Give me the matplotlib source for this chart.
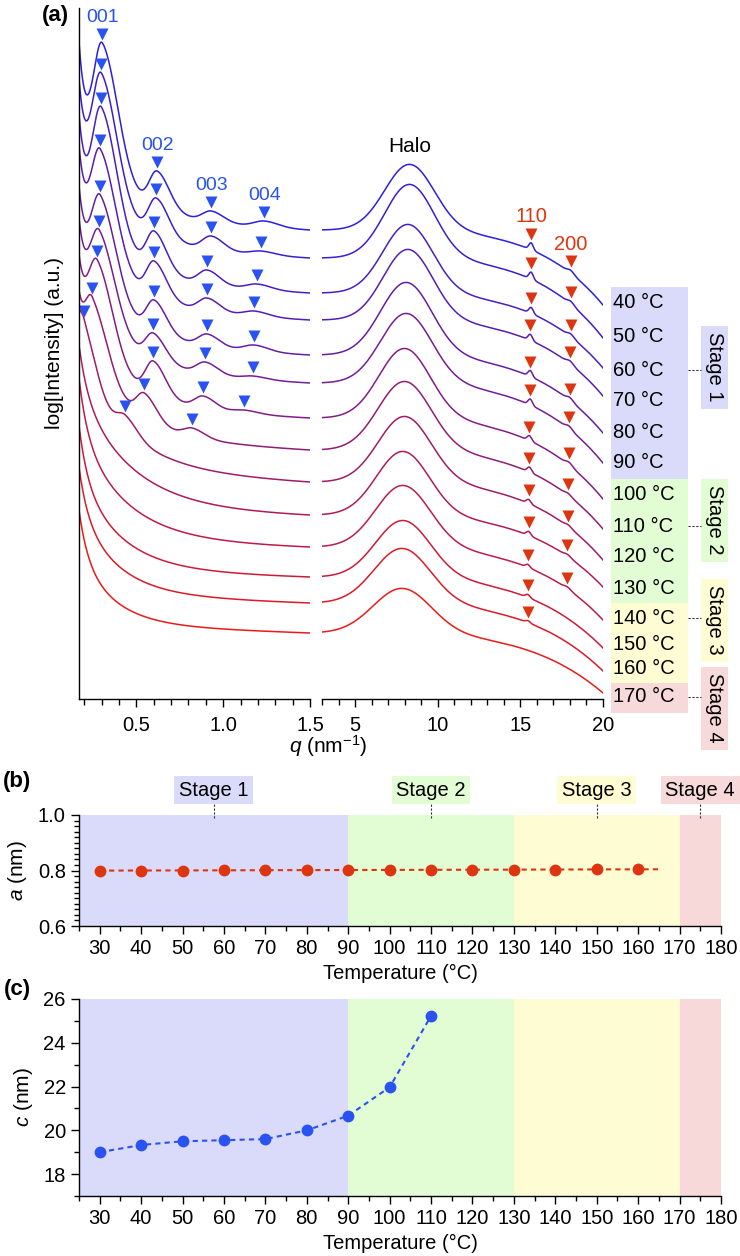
import numpy as np
import matplotlib
matplotlib.use("Agg")
import matplotlib.pyplot as plt
from matplotlib.patches import Rectangle
from matplotlib.ticker import MultipleLocator, FixedLocator
from matplotlib.transforms import offset_copy

plt.rcParams['font.family'] = ['Liberation Sans', 'DejaVu Sans']
plt.rcParams['mathtext.fontset'] = 'custom'
plt.rcParams['mathtext.rm'] = 'Liberation Sans'
plt.rcParams['mathtext.it'] = 'Liberation Sans:italic'
plt.rcParams['font.size'] = 14.5
plt.rcParams['axes.linewidth'] = 1.0

# ---------------- (a) SAXS/WAXS profiles (log intensity, arbitrary units) ----------------
temps_a = [40, 50, 60, 70, 80, 90, 100, 110, 120, 130, 140, 150, 160, 170]
curve_offset = [469, 441, 406, 379, 344, 316, 281, 249, 217, 184, 152, 122, 96, 66]

# low-q background of each curve
upturn_amp = [80, 70, 70, 65, 60, 55, 50, 40, 30, 45, 53, 50, 43, 44]
upturn_w = [0.035] * 9 + [0.05] * 5
slow_amp = [95, 95, 95, 95, 95, 95, 95, 100, 110, 120, 110, 95, 85, 71]
slow_w = [0.25] * 7 + [0.27, 0.29, 0.30, 0.27, 0.24, 0.22, 0.20]
tilt = [8] * 9 + [5, 5, 5, 6, 6]

# lamellar reflections: position (nm-1) and height above curve base
q_001 = [0.305, 0.299, 0.299, 0.293, 0.293, 0.287, 0.276, 0.247, 0.201]
h_001 = [187, 185, 186, 171, 160, 153, 158, 153, 162]
wl_001 = [0.05] * 7 + [0.04, 0.03]
wr_001 = [0.09] * 7 + [0.09, 0.07]
q_002 = [0.620, 0.615, 0.603, 0.603, 0.603, 0.598, 0.598, 0.546, 0.437]
h_002 = [59, 60, 62, 59, 55, 50, 57, 57, 67]
q_003 = [0.931, 0.931, 0.908, 0.908, 0.908, 0.897, 0.885, 0.822]
h_003 = [19, 22, 23, 22, 21, 21, 22, 22]
q_004 = [1.236, 1.218, 1.195, 1.178, 1.178, 1.172, 1.121]
h_004 = [9, 7, 9, 9, 10, 7, 8]

# wide-angle part
halo_q = [8.3, 8.3, 8.2, 8.2, 8.1, 8.1, 8.0, 8.0, 8.0, 7.9, 7.9, 7.9, 7.85, 7.85]
halo_h = [66, 74, 69, 71, 73, 70, 70, 69, 66, 64, 62, 57, 55, 45]
halo_w = [1.5, 1.5, 1.5, 1.5, 1.55, 1.55, 1.55, 1.6, 1.6, 1.6, 1.65, 1.65, 1.7, 1.75]
drop_20 = [75, 80, 75, 76, 78, 80, 81, 79, 78, 72, 73, 71, 68, 60]
drop_pow = [4.5, 4.5, 4.4, 4.4, 4.3, 4.3, 4.2, 4.2, 4.2, 4.1, 4.1, 4.0, 4.0, 4.0]
q_110 = [15.65, 15.65, 15.65, 15.6, 15.6, 15.6, 15.55, 15.55, 15.5, 15.5, 15.45, 15.45, 15.45]
amp_110 = [7, 7, 6, 6, 6, 6, 5, 5, 4, 4, 3, 3, 2]
q_200 = [18.05, 18.05, 18.05, 18.0, 18.0, 17.95, 17.95, 17.9, 17.9, 17.85, 17.85]
amp_200 = [3, 3, 3, 3, 3, 3, 3, 2, 2, 2, 2]

stage_names = ['Stage 1', 'Stage 2', 'Stage 3', 'Stage 4']
stage_first = [40, 100, 140, 170]
stage_anchor = [60, 110, 140, 170]
stage_bounds = [25, 90, 130, 170, 180]
stage_colors = ['#dadafb', '#e2fcd4', '#fefcd2', '#f7d9d9']

# ---------------- (b), (c) lattice parameters ----------------
temps_b = [30, 40, 50, 60, 70, 80, 90, 100, 110, 120, 130, 140, 150, 160]
a_nm = [0.800, 0.800, 0.800, 0.801, 0.801, 0.802, 0.801, 0.802, 0.802, 0.803, 0.803, 0.803, 0.804, 0.805]
temps_c = [30, 40, 50, 60, 70, 80, 90, 100, 110]
c_nm = [19.0, 19.33, 19.5, 19.55, 19.6, 20.0, 20.67, 21.97, 25.23]

BLUE = '#2a52f2'
RED = '#dc3510'
Q_LO, Q_MID, Q_R0, Q_R1 = 0.17, 1.5, 3.0, 20.0

# layout of the temperature column (figure pixels)
label_y = [303, 336, 370, 401, 432, 463, 495, 526, 556, 588, 618, 645, 669, 697]
stage_box_y = [367, 520, 620, 708]


def bump(q, q0, wl, wr):
    w = np.where(q < q0, wl, wr)
    return np.exp(-0.5 * ((q - q0) / w) ** 2)


def left_bg(i, q):
    def f(x):
        return (upturn_amp[i] * np.exp(-(x - Q_LO) / upturn_w[i])
                + slow_amp[i] * np.exp(-(x - Q_LO) / slow_w[i])
                + tilt[i] * (Q_MID - x))
    return f(q) - f(Q_MID)


def left_peaks(i):
    orders = [(q_001, h_001, wl_001, wr_001),
              (q_002, h_002, [0.045] * 9, [0.07] * 9),
              (q_003, h_003, [0.05] * 8, [0.07] * 8),
              (q_004, h_004, [0.06] * 7, [0.08] * 7)]
    pk = [(qs[i], hs[i], wl[i], wr[i]) for qs, hs, wl, wr in orders if i < len(qs)]
    if not pk:
        return [], []
    qc = np.array([p[0] for p in pk])
    hobs = np.array([p[1] for p in pk], dtype=float)
    M = np.array([[float(bump(qj, qk, wl, wr)) for (qk, _, wl, wr) in pk] for qj in qc])
    amp = np.linalg.solve(M, hobs - left_bg(i, qc))
    return pk, amp


def left_curve(i, q):
    y = curve_offset[i] + left_bg(i, q)
    pk, amp = left_peaks(i)
    for (qk, _, wl, wr), a in zip(pk, amp):
        y = y + a * bump(q, qk, wl, wr)
    return y


def right_curve(i, q):
    y = (curve_offset[i]
         + halo_h[i] * np.exp(-0.5 * ((q - halo_q[i]) / halo_w[i]) ** 2)
         - drop_20[i] * ((q - Q_R0) / (Q_R1 - Q_R0)) ** drop_pow[i])
    if i < len(q_110):
        y = y + amp_110[i] * np.exp(-0.5 * ((q - q_110[i]) / 0.13) ** 2)
    if i < len(q_200):
        y = y + amp_200[i] * np.exp(-0.5 * ((q - q_200[i]) / 0.2) ** 2)
    return y


W, H = 740, 1256
fig = plt.figure(figsize=(W / 100, H / 100), dpi=100)


def px_axes(x0, y0, x1, y1):
    return fig.add_axes([x0 / W, 1 - y1 / H, (x1 - x0) / W, (y1 - y0) / H])


ov = fig.add_axes([0, 0, 1, 1])
ov.set_xlim(0, W)
ov.set_ylim(H, 0)
ov.set_axis_off()

ax_l = px_axes(79, 8, 310, 699)
ax_r = px_axes(322, 8, 603, 699)
for ax in (ax_l, ax_r):
    ax.set_facecolor('none')
    ax.set_ylim(0, 691)
    ax.spines[['top', 'right']].set_visible(False)
    ax.set_yticks([])
    ax.tick_params(axis='x', which='major', direction='out', length=6, width=1, pad=6, labelsize=14.5)
    ax.tick_params(axis='x', which='minor', direction='out', length=4, width=1)
ax_r.spines['left'].set_visible(False)
ax_l.set_xlim(Q_LO, Q_MID)
ax_r.set_xlim(Q_R0, Q_R1)
ax_l.xaxis.set_major_locator(FixedLocator([0.5, 1.0, 1.5]))
ax_l.set_xticklabels(['0.5', '1.0', '1.5'])
ax_l.xaxis.set_minor_locator(MultipleLocator(0.1))
ax_r.xaxis.set_major_locator(FixedLocator([5, 10, 15, 20]))
ax_r.xaxis.set_minor_locator(MultipleLocator(1))

q_left = np.linspace(Q_LO, Q_MID, 700)
q_right = np.linspace(Q_R0, Q_R1, 700)
c_blue = np.array([0.17, 0.12, 0.88])
c_red = np.array([0.92, 0.10, 0.10])
n = len(temps_a)
for i in range(n):
    t = i / (n - 1)
    col = (1 - t) * c_blue + t * c_red
    ax_l.plot(q_left, left_curve(i, q_left), color=col, lw=1.1)
    ax_r.plot(q_right, right_curve(i, q_right), color=col, lw=1.1)

# reflection markers
mk_l = offset_copy(ax_l.transData, fig=fig, y=9, units='dots')
mk_r = offset_copy(ax_r.transData, fig=fig, y=9, units='dots')
for qs, name in ((q_001, '001'), (q_002, '002'), (q_003, '003'), (q_004, '004')):
    ys = [float(left_curve(i, np.array(qv))) for i, qv in enumerate(qs)]
    ax_l.plot(qs, ys, 'v', color=BLUE, ms=9, mec='none', transform=mk_l, clip_on=False)
    ax_l.annotate(name, (qs[0], ys[0]), xytext=(0, 26), textcoords='offset pixels',
                  ha='center', va='center', color=BLUE, fontsize=14, annotation_clip=False)
for qs, name in ((q_110, '110'), (q_200, '200')):
    ys = [float(right_curve(i, np.array(qv))) for i, qv in enumerate(qs)]
    ax_r.plot(qs, ys, 'v', color=RED, ms=9, mec='none', transform=mk_r, clip_on=False)
    ax_r.annotate(name, (qs[0], ys[0]), xytext=(0, 26), textcoords='offset pixels',
                  ha='center', va='center', color=RED, fontsize=14.5, annotation_clip=False)
ax_r.annotate('Halo', (halo_q[0], right_curve(0, np.array(halo_q[0]))), xytext=(0, 18),
              textcoords='offset pixels', ha='center', va='center', fontsize=15)

# temperature labels with stage bands
for t, y in zip(temps_a, label_y):
    ov.text(613, y, f'{t} °C', ha='left', va='center', fontsize=14.5, zorder=3)
first_idx = [temps_a.index(t) for t in stage_first] + [n]
for s in range(4):
    i0, i1 = first_idx[s], first_idx[s + 1] - 1
    top = label_y[0] - 16 if s == 0 else (label_y[i0 - 1] + label_y[i0]) / 2
    bot = label_y[-1] + 16 if s == 3 else (label_y[i1] + label_y[i1 + 1]) / 2
    ov.add_patch(Rectangle((611, top), 77, bot - top, fc=stage_colors[s], ec='none', zorder=1))
    cy = label_y[temps_a.index(stage_anchor[s])]
    ov.plot([688, 701], [cy, cy], color='#333333', lw=0.8, ls=(0, (2, 1.5)))
    by = stage_box_y[s]
    ov.add_patch(Rectangle((701, by - 41.5), 27, 83, fc=stage_colors[s], ec='none', zorder=1))
    ov.text(714.5, by, stage_names[s], rotation=270, ha='center', va='center', fontsize=14.5, zorder=3)

fig.text(55 / W, 1 - 343 / H, 'log[Intensity] (a.u.)', rotation=90, ha='center', va='center', fontsize=15)
fig.text(328 / W, 1 - 746 / H, r'$q$ (nm$^{-1}$)', ha='center', va='center', fontsize=15)
fig.text(55 / W, 1 - 16 / H, '(a)', ha='center', va='center', fontsize=16, fontweight='bold')
fig.text(17 / W, 1 - 781 / H, '(b)', ha='center', va='center', fontsize=16, fontweight='bold')
fig.text(17 / W, 1 - 990 / H, '(c)', ha='center', va='center', fontsize=16, fontweight='bold')


def lattice_axes(ax):
    for s in range(4):
        ax.axvspan(stage_bounds[s], stage_bounds[s + 1], color=stage_colors[s], lw=0, zorder=0)
    ax.spines[['top', 'right']].set_visible(False)
    ax.xaxis.set_major_locator(MultipleLocator(10))
    ax.xaxis.set_minor_locator(MultipleLocator(5))
    ax.set_xlim(25, 180)
    ax.tick_params(which='major', direction='out', length=6, width=1, labelsize=14.5)
    ax.tick_params(which='minor', direction='out', length=3.5, width=1)
    ax.set_xlabel('Temperature (°C)', fontsize=14.5, labelpad=4)


# (b)
ax_b = px_axes(79, 815, 721, 926)
lattice_axes(ax_b)
ax_b.set_ylim(0.6, 1.0)
ax_b.yaxis.set_major_locator(FixedLocator([0.6, 0.8, 1.0]))
ax_b.yaxis.set_minor_locator(MultipleLocator(0.02))
ax_b.set_ylabel('$a$ (nm)', fontsize=15, labelpad=6)
fit = np.polyfit(temps_b, a_nm, 1)
t_fit = np.array([temps_b[0], temps_b[-1] + 5])
ax_b.plot(t_fit, np.polyval(fit, t_fit), color=RED, lw=1.5, ls=(0, (2.5, 2)), zorder=2)
ax_b.plot(temps_b, a_nm, 'o', color=RED, ms=8.5, mec='none', zorder=3)
label_x = [57.5, 110, 150, 175]
for s in range(4):
    ax_b.text(label_x[s], 1.225, stage_names[s], transform=ax_b.get_xaxis_transform(),
              ha='center', va='center', fontsize=14.5,
              bbox=dict(boxstyle='square,pad=0.22', fc=stage_colors[s], ec='none'))
    ax_b.plot([label_x[s]] * 2, [0.97, 1.11], transform=ax_b.get_xaxis_transform(),
              color='#333333', lw=0.8, ls=(0, (2, 1.5)), clip_on=False)

# (c)
ax_c = px_axes(79, 999, 721, 1196)
lattice_axes(ax_c)
ax_c.set_ylim(17, 26)
ax_c.yaxis.set_major_locator(MultipleLocator(2))
ax_c.yaxis.set_minor_locator(MultipleLocator(1))
ax_c.set_ylabel('$c$ (nm)', fontsize=15, labelpad=6)
ax_c.plot(temps_c, c_nm, 'o', color=BLUE, ms=8.5, mec='none', ls=(0, (2.5, 2)), lw=1.5, zorder=3)

fig.savefig('out.png', dpi=100)
